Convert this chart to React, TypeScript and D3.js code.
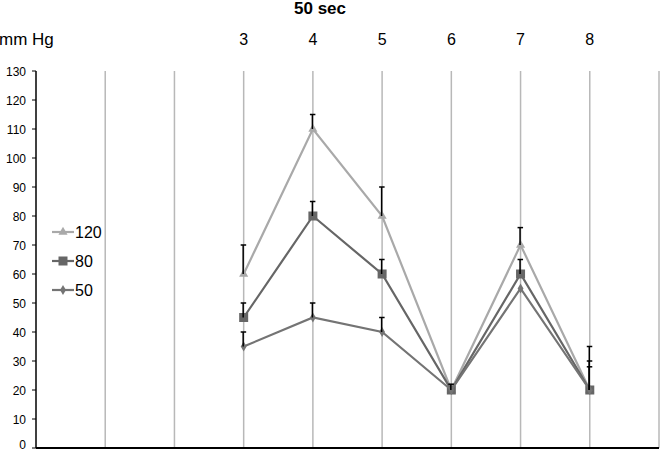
import React from "react";
import * as d3 from "d3";

const categories = ["3", "4", "5", "6", "7", "8"];
const catIndex = [3, 4, 5, 6, 7, 8];
const gridIndex = [1, 2, 3, 4, 5, 6, 7, 8, 9];
const yTicks = [0, 10, 20, 30, 40, 50, 60, 70, 80, 90, 100, 110, 120, 130];

const series120 = [60, 110, 80, 20, 70, 20];
const err120 = [10, 5, 10, 0, 6, 15];
const series80 = [45, 80, 60, 20, 60, 20];
const err80 = [5, 5, 5, 2, 5, 10];
const series50 = [35, 45, 40, 20, 55, 20];
const err50 = [5, 5, 5, 0, 0, 8];

const seriesNames = ["120", "80", "50"];

const width = 660;
const height = 453;

const x = d3.scaleLinear().domain([0, 9]).range([36, 659]);
const y = d3.scaleLinear().domain([0, 130]).range([448, 71]);

type Shape = "triangle" | "square" | "diamond";

const Marker = ({ cx, cy, shape, color }: { cx: number; cy: number; shape: Shape; color: string }) => {
  if (shape === "square") {
    return <rect x={cx - 4.5} y={cy - 4.5} width={9} height={9} fill={color} />;
  }
  const sym = shape === "triangle" ? d3.symbolTriangle : d3.symbolDiamond;
  const size = shape === "triangle" ? 36 : 30;
  const path = d3.symbol().type(sym).size(size)() as string;
  return <path d={path} transform={`translate(${cx},${cy})`} fill={color} />;
};

const App = () => {
  const series = [
    { name: seriesNames[0], values: series120, err: err120, color: "#a9a9a9", shape: "triangle" as Shape },
    { name: seriesNames[1], values: series80, err: err80, color: "#666666", shape: "square" as Shape },
    { name: seriesNames[2], values: series50, err: err50, color: "#747474", shape: "diamond" as Shape },
  ];

  const line = d3
    .line<number>()
    .x((d, i) => x(catIndex[i]))
    .y((d) => y(d));

  const font = "Liberation Sans, Arial, sans-serif";

  return (
    <svg
      width={width}
      height={height}
      style={{ position: "absolute", left: 0, top: 0, background: "#fff" }}
      fontFamily={font}
    >
      <rect width={width} height={height} fill="#fff" />
      <text x={320} y={14} textAnchor="middle" fontSize={17} fontWeight="bold" fill="#000">
        50 sec
      </text>
      <text x={-1} y={45} fontSize={17} fill="#000">
        mm Hg
      </text>
      {categories.map((c, i) => (
        <text key={c} x={x(catIndex[i])} y={45} textAnchor="middle" fontSize={16} fill="#000">
          {c}
        </text>
      ))}

      {gridIndex.map((g) => (
        <line key={g} x1={x(g)} x2={x(g)} y1={y(130)} y2={y(0)} stroke="#b8b8b8" strokeWidth={1.5} />
      ))}

      {/* y axis */}
      <line x1={x(0)} x2={x(0)} y1={y(130)} y2={y(0)} stroke="#000" strokeWidth={1.5} />
      {yTicks.map((t) => (
        <g key={t}>
          <line x1={x(0) - 4} x2={x(0)} y1={y(t)} y2={y(t)} stroke="#000" strokeWidth={1} />
          <text x={26} y={Math.min(y(t) + 4.5, 449)} textAnchor="end" fontSize={12} fill="#000">
            {t}
          </text>
        </g>
      ))}
      <line x1={x(0)} x2={x(9)} y1={y(0)} y2={y(0)} stroke="#000" strokeWidth={2} />

      {series.map((s) => (
        <g key={s.name}>
          <path d={line(s.values) as string} fill="none" stroke={s.color} strokeWidth={2.2} />
          {s.values.map((v, i) => (
            <Marker key={i} cx={x(catIndex[i])} cy={y(v)} shape={s.shape} color={s.color} />
          ))}
        </g>
      ))}

      {series.map((s) =>
        s.values.map((v, i) =>
          s.err[i] > 0 ? (
            <g key={`${s.name}-${i}`} stroke="#000" strokeWidth={1.5}>
              <line x1={x(catIndex[i]) - 0.5} x2={x(catIndex[i]) - 0.5} y1={y(v)} y2={y(v + s.err[i])} />
              <line x1={x(catIndex[i]) - 3} x2={x(catIndex[i]) + 2.5} y1={y(v + s.err[i])} y2={y(v + s.err[i])} />
            </g>
          ) : null
        )
      )}

      {/* legend */}
      {series.map((s, i) => (
        <g key={s.name} transform={`translate(0,${232 + i * 29})`}>
          <line x1={52} x2={74} y1={0} y2={0} stroke={s.color} strokeWidth={2.2} />
          <Marker cx={63} cy={0} shape={s.shape} color={s.color} />
          <text x={75} y={5.5} fontSize={16} fill="#000">
            {s.name}
          </text>
        </g>
      ))}
    </svg>
  );
};

export default App;
